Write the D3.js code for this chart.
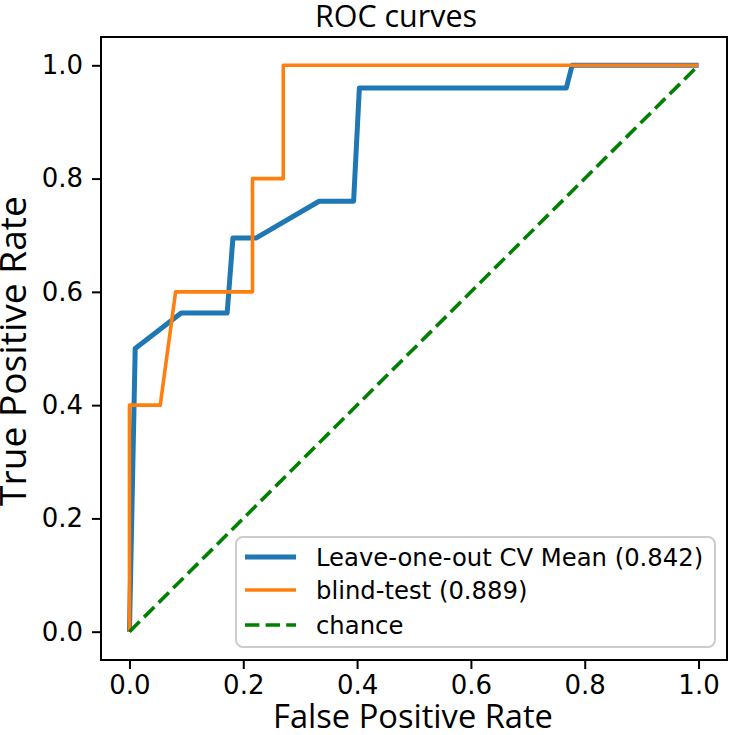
<!DOCTYPE html>
<html><head><meta charset="utf-8">
<script src="https://cdn.jsdelivr.net/npm/d3@7"></script>
<style>body{margin:0;background:#fff}svg{display:block}text{font-family:"DejaVu Sans",sans-serif;fill:#000}</style>
</head><body>
<svg id="c" width="731" height="735"></svg>
<script>
const tickValues = [0.0, 0.2, 0.4, 0.6, 0.8, 1.0];
const titleText = "ROC curves";
const xLabel = "False Positive Rate";
const yLabel = "True Positive Rate";
const seriesNames = ["Leave-one-out CV Mean (0.842)", "blind-test (0.889)", "chance"];
const meanFpr = [0, 0.0101, 0.0909, 0.1717, 0.1818, 0.2222, 0.3333, 0.3939, 0.4040, 0.7677, 0.7778, 1.0];
const meanTpr = [0, 0.50, 0.5625, 0.5625, 0.695, 0.695, 0.76, 0.76, 0.96, 0.96, 1.0, 1.0];
const blindFpr = [0, 0, 0.0541, 0.0811, 0.2162, 0.2162, 0.2703, 0.2703, 1.0];
const blindTpr = [0, 0.4, 0.4, 0.6, 0.6, 0.8, 0.8, 1.0, 1.0];
const chanceFpr = [0, 1];
const chanceTpr = [0, 1];

const svg = d3.select("#c");
const L = 101, R = 727, T = 37, B = 660;
const x = d3.scaleLinear().domain([-0.05, 1.05]).range([L, R]);
const y = d3.scaleLinear().domain([-0.05, 1.05]).range([B, T]);
const fmt = d3.format(".1f");
const FS = 26;
const LABEL_FONT = "'Open Sans', 'Noto Sans', sans-serif";

// axes
const xAxis = d3.axisBottom(x).tickValues(tickValues).tickFormat(fmt).tickSize(9).tickPadding(7);
const yAxis = d3.axisLeft(y).tickValues(tickValues).tickFormat(fmt).tickSize(9).tickPadding(9);
const gx = svg.append("g").attr("transform", `translate(0,${B})`).call(xAxis);
const gy = svg.append("g").attr("transform", `translate(${L},0)`).call(yAxis);
[gx, gy].forEach(g => {
  g.select(".domain").remove();
  g.selectAll(".tick line").attr("stroke", "#000").attr("stroke-width", 2);
  g.selectAll(".tick text").attr("font-size", FS).attr("font-family", "DejaVu Sans");
});

const data = (xs, ys) => xs.map((v, i) => [v, ys[i]]);
const line = d3.line().x(d => x(d[0])).y(d => y(d[1]));

const plot = svg.append("g");
plot.append("path").datum(data(meanFpr, meanTpr)).attr("d", line)
  .attr("fill", "none").attr("stroke", "#1f77b4").attr("stroke-width", 5).attr("stroke-linejoin", "round");
plot.append("path").datum(data(blindFpr, blindTpr)).attr("d", line)
  .attr("fill", "none").attr("stroke", "#ff7f0e").attr("stroke-width", 3.6).attr("stroke-linejoin", "round");
plot.append("path").datum(data(chanceFpr, chanceTpr)).attr("d", line)
  .attr("fill", "none").attr("stroke", "#008000").attr("stroke-width", 3.6).attr("stroke-dasharray", "14.4,6.2");

// frame
svg.append("rect").attr("x", L).attr("y", T).attr("width", R - L).attr("height", B - T)
  .attr("fill", "none").attr("stroke", "#000").attr("stroke-width", 2);

// fit a label's font size to a target width
function fit(sel, target) {
  const base = 30;
  sel.attr("font-size", base);
  const w = sel.node().getComputedTextLength();
  if (w > 0) sel.attr("font-size", base * target / w);
  return sel;
}

// title & labels
fit(svg.append("text").attr("x", 396).attr("y", 27).attr("text-anchor", "middle")
  .style("font-family", LABEL_FONT).text(titleText), 162);
fit(svg.append("text").attr("x", 413).attr("y", 728).attr("text-anchor", "middle")
  .style("font-family", LABEL_FONT).text(xLabel), 280);
fit(svg.append("text").attr("transform", `translate(26,351) rotate(-90)`).attr("text-anchor", "middle")
  .style("font-family", LABEL_FONT).text(yLabel), 310);

// legend
const lg = svg.append("g");
lg.append("rect").attr("x", 236).attr("y", 537).attr("width", 479).attr("height", 110).attr("rx", 7)
  .attr("fill", "#fff").attr("fill-opacity", 0.8).attr("stroke", "#cccccc").attr("stroke-width", 2);
const styles = [
  {c: "#1f77b4", w: 5, d: null},
  {c: "#ff7f0e", w: 3.6, d: null},
  {c: "#008000", w: 3.6, d: "14.4,6.2"}
];
const rowY = [557, 590, 625];
seriesNames.forEach((n, i) => {
  const ln = lg.append("line").attr("x1", 245).attr("x2", 296).attr("y1", rowY[i]).attr("y2", rowY[i])
    .attr("stroke", styles[i].c).attr("stroke-width", styles[i].w);
  if (styles[i].d) ln.attr("stroke-dasharray", styles[i].d);
  lg.append("text").attr("x", 316).attr("y", rowY[i] + 9).attr("font-size", 24.3).text(n);
});
</script>
</body></html>
